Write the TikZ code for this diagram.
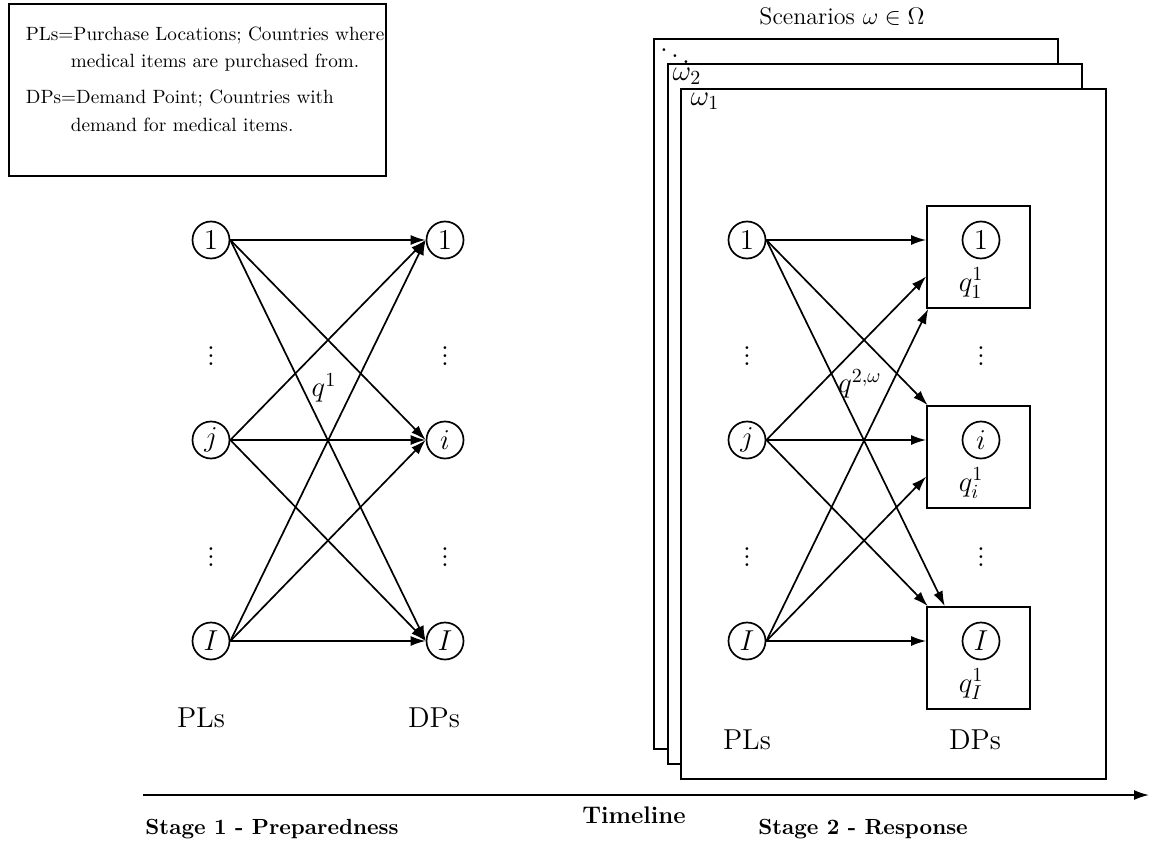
\documentclass[tikz,border=0pt]{standalone}
\usetikzlibrary{arrows.meta}
\begin{document}
\begin{tikzpicture}[x=0.5pt,y=-0.5pt,
  every node/.style={font=\fontsize{14.4}{17}\selectfont},
  line width=0.85pt,
  vtx/.style={draw, circle, minimum size=18.5pt, inner sep=0pt},
  dpbox/.style={draw, minimum width=51.5pt, minimum height=51pt, inner sep=0pt},
  frame/.style={draw, fill=white},
  arr/.style={-{Latex[length=7.5pt,width=5pt]}},
  framelabel/.style={font=\fontsize{14.4}{17}\selectfont, inner sep=0pt},
  stagelabel/.style={font=\fontsize{10.95}{14}\selectfont\bfseries}]

\useasboundingbox (0,0) rectangle (1149,845);

% legend box
\node[draw, anchor=north west, minimum width=188.5pt, minimum height=86pt, inner sep=0pt] (legend) at (8,3) {};
\node[anchor=north west, align=left, inner sep=0pt, font=\fontsize{9.6}{13.8}\selectfont] (legendtext) at (25,26)
  {PLs=Purchase Locations; Countries where\\
   \hspace*{22.5pt}medical items are purchased from.\\[4.2pt]
   DPs=Demand Point; Countries with\\
   \hspace*{22.5pt}demand for medical items.};

% ---------- stage 1 network ----------
\node[vtx] (L1) at (211,240) {$1$};
\node[vtx] (Lj) at (211,440) {$j$};
\node[vtx] (LI) at (211,641) {$I$};
\node[vtx] (R1) at (445,240) {$1$};
\node[vtx] (Ri) at (445,440) {$i$};
\node[vtx] (RI) at (445,641) {$I$};
\node (Ld1) at (211,350) {$\vdots$};
\node (Ld2) at (211,551) {$\vdots$};
\node (Rd1) at (445,350) {$\vdots$};
\node (Rd2) at (445,551) {$\vdots$};
\foreach \s in {L1,Lj,LI}
  \foreach \t in {R1,Ri,RI}
    \draw[arr] (\s.east) -- (\t.west);
\node (qone) at (324,388) {$q^1$};
\node (PLa) at (201,718) {PLs};
\node (DPa) at (434,718) {DPs};

% ---------- scenario frames ----------
\node[frame, anchor=north west, minimum width=202pt, minimum height=355pt, inner sep=0pt] (F3) at (653,38) {};
\node[frame, anchor=north west, minimum width=207pt, minimum height=350pt, inner sep=0pt] (F2) at (667,63) {};
\node[frame, anchor=north west, minimum width=212.5pt, minimum height=345pt, inner sep=0pt] (F1) at (680,88) {};
\node[font=\fontsize{12}{15}\selectfont] (scen) at (842,17) {Scenarios $\omega\in\Omega$};
\node[framelabel] (dd) at (675,50) {$\ddots$};
\node[framelabel] (w2) at (687,76) {$\omega_2$};
\node[framelabel] (w1) at (705,101) {$\omega_1$};

% ---------- stage 2 network ----------
\node[vtx] (P1) at (747,240) {$1$};
\node[vtx] (Pj) at (747,440) {$j$};
\node[vtx] (PI) at (747,641) {$I$};
\node (Pd1) at (747,350) {$\vdots$};
\node (Pd2) at (747,551) {$\vdots$};

\node[dpbox] (B1) at (978.5,257) {};
\node[dpbox] (Bi) at (978.5,457) {};
\node[dpbox] (BI) at (978.5,658) {};
\node[vtx] (C1) at (981,240) {$1$};
\node[vtx] (Ci) at (981,440) {$i$};
\node[vtx] (CI) at (981,641) {$I$};
\node (q11) at (971,283) {$q_1^1$};
\node (qi1) at (971,483) {$q_i^1$};
\node (qI1) at (971,684) {$q_I^1$};
\node (Dd1) at (981,350) {$\vdots$};
\node (Dd2) at (981,551) {$\vdots$};

\draw[arr] (P1.east) -- (B1.west |- P1);
\draw[arr] (P1.east) -- (intersection of P1.east--Ci.west and Bi.north west--Bi.north east);
\draw[arr] (P1.east) -- (intersection of P1.east--CI.west and BI.north west--BI.north east);
\draw[arr] (Pj.east) -- (intersection of Pj.east--C1.west and B1.north west--B1.south west);
\draw[arr] (Pj.east) -- (Bi.west |- Pj);
\draw[arr] (Pj.east) -- (intersection of Pj.east--CI.west and BI.north west--BI.north east);
\draw[arr] (PI.east) -- (intersection of PI.east--C1.west and B1.south west--B1.south east);
\draw[arr] (PI.east) -- (intersection of PI.east--Ci.west and Bi.north west--Bi.south west);
\draw[arr] (PI.east) -- (BI.west |- PI);

\node (qtwo) at (860,384) {$q^{2,\omega}$};
\node (PLb) at (747,740) {PLs};
\node (DPb) at (975,740) {DPs};

% ---------- timeline ----------
\coordinate (t0) at (143,795);
\coordinate (t1) at (1149,795);
\draw[arr] (t0) -- (t1);
\node[font=\fontsize{12}{15}\selectfont\bfseries] (tl) at (634,815) {Timeline};
\node[stagelabel] (s1) at (272,829) {Stage 1 - Preparedness};
\node[stagelabel] (s2) at (863,829) {Stage 2 - Response};
\end{tikzpicture}
\end{document}
